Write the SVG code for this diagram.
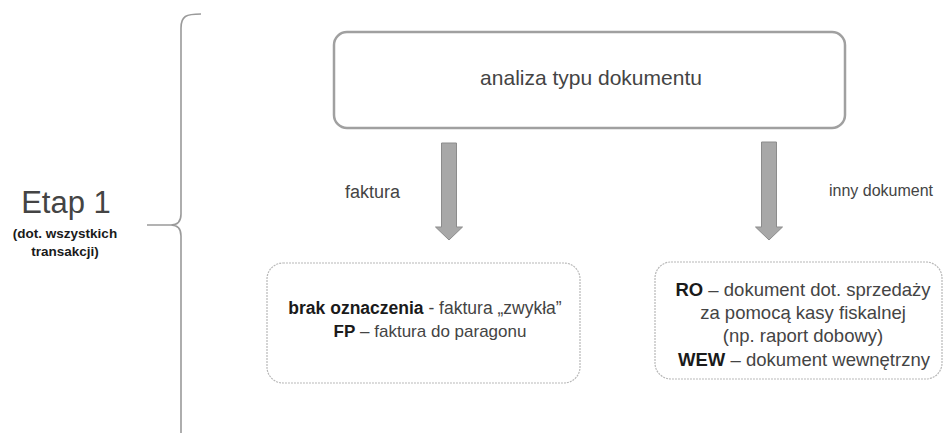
<svg xmlns="http://www.w3.org/2000/svg" width="944" height="433" viewBox="0 0 944 433">
<style>
text{font-family:"Liberation Sans",Arial,sans-serif;fill:#444;}
.b{font-weight:bold;fill:#1a1a1a;}
.box1{fill:#fff;stroke:#a0a0a0;stroke-width:2.5;}
.box2{fill:#fff;stroke:#b8b8b8;stroke-width:1.2;stroke-dasharray:2 1;}
.arr{fill:#a8a8a8;stroke:#8c8c8c;stroke-width:1;}
.brace{fill:none;stroke:#9a9a9a;stroke-width:1.6;}
</style>
<rect width="944" height="433" fill="#fff"/>
<g id="etap">
<text x="66" y="213" font-size="31" text-anchor="middle" fill="#333">Etap 1</text>
<text x="65" y="238" font-size="13.5" text-anchor="middle" class="b">(dot. wszystkich</text>
<text x="65" y="256" font-size="13.5" text-anchor="middle" class="b">transakcji)</text>
</g>
<g id="brace">
<path class="brace" d="M201,14 C186,14 181,16 181,28 L181,214 Q181,225 171,225 L147,225 M171,225 Q181,225 181,236 L181,433"/>
</g>
<g id="analiza">
<rect class="box1" x="334" y="32" width="511" height="96" rx="13"/>
<text x="591" y="85" font-size="21" text-anchor="middle" fill="#111">analiza typu dokumentu</text>
</g>
<g id="connectors">
<path class="arr" d="M441.5,143 L456.5,143 L456.5,227 L462.5,227 L449,240 L435.5,227 L441.5,227 Z"/>
<path class="arr" d="M761.5,142 L776.5,142 L776.5,227 L782.5,227 L769,240 L755.5,227 L761.5,227 Z"/>
<text x="345" y="198" font-size="18">faktura</text>
<text x="933" y="196" font-size="16" text-anchor="end">inny dokument</text>
</g>
<g id="faktura">
<rect class="box2" x="267" y="263" width="313" height="120" rx="16"/>
<text x="425" y="314" font-size="17.5" text-anchor="middle"><tspan class="b">brak oznaczenia</tspan> - faktura „zwykła”</text>
<text x="430" y="337" font-size="17" text-anchor="middle"><tspan class="b">FP</tspan> – faktura do paragonu</text>
</g>
<g id="inny">
<rect class="box2" x="655" y="262" width="287" height="117" rx="16"/>
<text x="803" y="296" font-size="18.5" text-anchor="middle"><tspan class="b">RO</tspan> – dokument dot. sprzedaży</text>
<text x="803" y="319" font-size="18.5" text-anchor="middle">za pomocą kasy fiskalnej</text>
<text x="803" y="342" font-size="18.5" text-anchor="middle">(np. raport dobowy)</text>
<text x="804" y="366" font-size="18.5" text-anchor="middle"><tspan class="b">WEW</tspan> – dokument wewnętrzny</text>
</g>
</svg>
